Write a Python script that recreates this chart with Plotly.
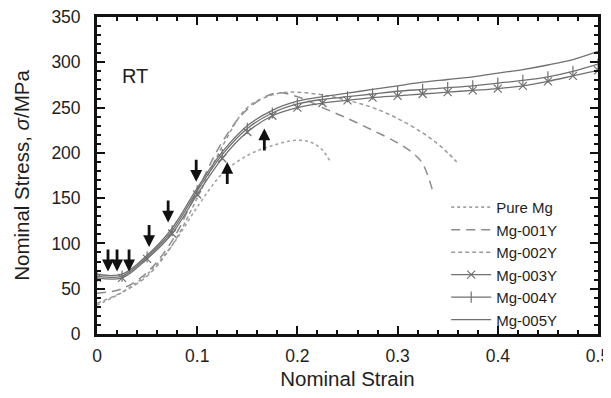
import plotly.graph_objects as go

# ---- data ----
strain_bundle = [0, 0.025, 0.05, 0.075, 0.1, 0.125, 0.15, 0.175, 0.2, 0.225, 0.25,
                 0.275, 0.3, 0.325, 0.35, 0.375, 0.4, 0.425, 0.45, 0.475, 0.5]
mg005 = [66, 66, 87, 117, 161, 201, 230, 247, 257, 262, 266, 270, 274, 278, 281, 284, 288, 292, 297, 303, 312]
mg004 = [64, 64, 85, 114, 158, 198, 227, 244, 254, 259, 262, 265, 268, 270, 272, 274, 277, 280, 284, 290, 298]
mg003 = [62, 62, 83, 111, 154, 194, 223, 241, 250, 255, 258, 261, 263, 265, 267, 269, 271, 274, 279, 285, 291]

strain_pure = [0, 0.025, 0.05, 0.075, 0.1, 0.125, 0.15, 0.175, 0.2, 0.215, 0.225, 0.233]
pure_mg = [32, 46, 66, 98, 140, 177, 197, 208, 214, 211, 203, 190]

strain_001 = [0, 0.025, 0.05, 0.075, 0.1, 0.125, 0.15, 0.178, 0.2, 0.225, 0.25, 0.275, 0.3, 0.315, 0.325, 0.335]
mg001 = [45, 50, 68, 103, 158, 212, 248, 266, 262, 250, 238, 225, 211, 200, 188, 158]

strain_002 = [0, 0.025, 0.05, 0.075, 0.1, 0.125, 0.15, 0.175, 0.19, 0.2, 0.225, 0.25, 0.275, 0.3, 0.325, 0.34, 0.35, 0.359]
mg002 = [34, 46, 64, 98, 150, 207, 250, 264, 267, 267, 264, 258, 250, 238, 222, 210, 200, 190]

x_tickvals = [0, 0.1, 0.2, 0.3, 0.4, 0.5]
x_ticktext = ["0", "0.1", "0.2", "0.3", "0.4", "0.5"]
y_tickvals = [0, 50, 100, 150, 200, 250, 300, 350]
y_ticktext = ["0", "50", "100", "150", "200", "250", "300", "350"]

# arrows: (strain, tip stress, tail stress)
down_x = [0.011, 0.020, 0.032, 0.052, 0.071, 0.099]
down_tip = [69, 69, 69, 96, 123, 168]
down_tail = [95, 95, 95, 122, 149, 194]
up_x = [0.130, 0.167]
up_tip = [190, 227]
up_tail = [164, 201]

FONT = "Liberation Sans, Arial, Helvetica, sans-serif"
TXT = "#1e1e1e"

fig = go.Figure()

fig.add_trace(go.Scatter(x=strain_pure, y=pure_mg, name="Pure Mg", mode="lines",
                         line=dict(color="#a3a3a3", width=1.6, dash="dot", shape="spline")))
fig.add_trace(go.Scatter(x=strain_001, y=mg001, name="Mg-001Y", mode="lines",
                         line=dict(color="#8c8c8c", width=1.5, dash="9px,6px", shape="spline")))
fig.add_trace(go.Scatter(x=strain_002, y=mg002, name="Mg-002Y", mode="lines",
                         line=dict(color="#9a9a9a", width=1.5, dash="4px,3px", shape="spline")))
fig.add_trace(go.Scatter(x=strain_bundle, y=mg003, name="Mg-003Y", mode="lines+markers",
                         line=dict(color="#707070", width=1.3, shape="spline"),
                         marker=dict(symbol="x-thin-open", size=8, color="#707070",
                                     line=dict(width=1.2, color="#707070"))))
fig.add_trace(go.Scatter(x=strain_bundle, y=mg004, name="Mg-004Y", mode="lines+markers",
                         line=dict(color="#707070", width=1.3, shape="spline"),
                         marker=dict(symbol="line-ns-open", size=8, color="#707070",
                                     line=dict(width=1.2, color="#707070"))))
fig.add_trace(go.Scatter(x=strain_bundle, y=mg005, name="Mg-005Y", mode="lines",
                         line=dict(color="#707070", width=1.3, shape="spline")))

annotations = []
for x, tip, tail in zip(down_x + up_x, down_tip + up_tip, down_tail + up_tail):
    annotations.append(dict(x=x, y=tip, ax=x, ay=tail, xref="x", yref="y",
                            axref="x", ayref="y", text="", showarrow=True,
                            arrowhead=2, arrowsize=0.85, arrowwidth=2.8,
                            arrowcolor="#111111"))
annotations.append(dict(x=0.038, y=285, xref="x", yref="y", text="RT", showarrow=False,
                        font=dict(family=FONT, size=20, color=TXT)))

axis_common = dict(showline=True, linewidth=2.8, linecolor="#111111", mirror="allticks",
                   ticks="inside", ticklen=8, tickwidth=1.5, tickcolor="#111111",
                   showgrid=False, zeroline=False, ticklabeloverflow="allow",
                   tickfont=dict(family=FONT, size=17.5, color=TXT))

# page body has an 8px default margin on every side, so the figure is sized to
# fit inside the window without scrollbars
fig.update_layout(
    width=603, height=382,
    margin=dict(l=89, r=13, t=9, b=56),
    paper_bgcolor="white", plot_bgcolor="white",
    font=dict(family=FONT, color=TXT),
    showlegend=True,
    legend=dict(x=0.697, y=-0.006, xanchor="left", yanchor="bottom",
                bgcolor="rgba(0,0,0,0)", font=dict(family=FONT, size=15, color=TXT),
                tracegroupgap=0, itemwidth=40),
    annotations=annotations,
)
fig.update_xaxes(range=[0, 0.5], tickmode="array", tickvals=x_tickvals, ticktext=x_ticktext,
                 minor=dict(dtick=0.02, ticks="inside", ticklen=4, tickcolor="#111111"),
                 ticklabelstandoff=4, automargin=False,
                 title=dict(text="Nominal Strain", font=dict(family=FONT, size=20.5, color=TXT),
                            standoff=10),
                 **axis_common)
fig.update_yaxes(range=[0, 350], tickmode="array", tickvals=y_tickvals, ticktext=y_ticktext,
                 minor=dict(dtick=10, ticks="inside", ticklen=4, tickcolor="#111111"),
                 ticklabelstandoff=10, automargin="left",
                 title=dict(text="Nominal Stress, <i>σ</i>/MPa",
                            font=dict(family=FONT, size=20.5, color=TXT), standoff=17),
                 **axis_common)

fig.write_html("out.html")
